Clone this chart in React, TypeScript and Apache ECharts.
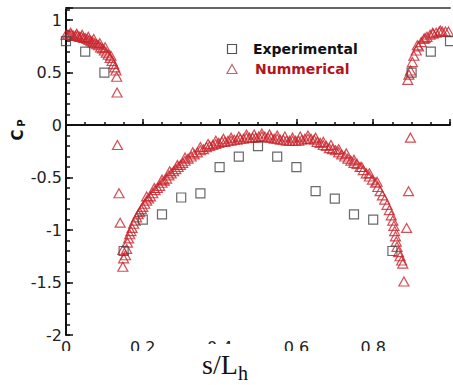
import React, { useEffect, useRef } from "react";
import * as echarts from "echarts";

// Experimental data (squares)
const expX = [0.0, 0.05, 0.1, 0.15, 0.2, 0.25, 0.3, 0.35, 0.4, 0.45, 0.5, 0.55, 0.6, 0.65, 0.7, 0.75, 0.8, 0.85, 0.9, 0.95, 1.0];
const expY = [0.8, 0.7, 0.5, -1.2, -0.9, -0.85, -0.69, -0.65, -0.4, -0.3, -0.2, -0.3, -0.4, -0.63, -0.7, -0.85, -0.9, -1.2, 0.5, 0.7, 0.8];

// Numerical data (triangles) - main row of the band and isolated points
const numX = [
  0.0, 0.005, 0.01, 0.015, 0.02, 0.025, 0.03, 0.035, 0.04, 0.045, 0.05, 0.055, 0.06, 0.065, 0.07, 0.075, 0.08, 0.085, 0.09, 0.095,
  0.1, 0.105, 0.11, 0.115, 0.12, 0.124, 0.127, 0.13, 0.132, 0.133, 0.134, 0.138, 0.141, 0.148, 0.15, 0.148,
  0.155, 0.158, 0.16, 0.163, 0.166, 0.169, 0.172, 0.176, 0.18, 0.184, 0.188, 0.192, 0.196, 0.2, 0.205, 0.21, 0.215, 0.22,
  0.226, 0.232, 0.238, 0.244, 0.25, 0.256, 0.262, 0.268, 0.274, 0.28, 0.286, 0.292, 0.298, 0.304, 0.31, 0.318, 0.326,
  0.334, 0.342, 0.35, 0.358, 0.366, 0.374, 0.382, 0.39, 0.398, 0.406, 0.414, 0.422, 0.43, 0.438, 0.446, 0.454, 0.462,
  0.47, 0.478, 0.486, 0.494, 0.502, 0.51, 0.518, 0.526, 0.534, 0.542, 0.55, 0.558, 0.566, 0.574, 0.582, 0.59, 0.598,
  0.606, 0.614, 0.622, 0.63, 0.638, 0.646, 0.654, 0.662, 0.67, 0.678, 0.686, 0.694, 0.702, 0.71, 0.718, 0.726, 0.734,
  0.742, 0.75, 0.758, 0.766, 0.774, 0.782, 0.79, 0.798, 0.806, 0.812, 0.818, 0.824, 0.83, 0.836, 0.842, 0.847, 0.851,
  0.854, 0.856, 0.858, 0.86, 0.862, 0.866, 0.87, 0.874, 0.877, 0.88, 0.887, 0.892, 0.897,
  0.89, 0.893, 0.897, 0.902, 0.906, 0.912, 0.918, 0.925, 0.932, 0.94, 0.948, 0.956, 0.964, 0.972, 0.98, 0.988, 0.996
];
const numY = [
  0.86, 0.86, 0.86, 0.86, 0.85, 0.85, 0.85, 0.84, 0.84, 0.83, 0.83, 0.82, 0.81, 0.8, 0.79, 0.78, 0.77, 0.76, 0.74, 0.73,
  0.71, 0.69, 0.67, 0.64, 0.61, 0.58, 0.55, 0.52, 0.46, 0.31, -0.19, -0.65, -0.93, -1.19, -1.27, -1.35,
  -1.24, -1.18, -1.12, -1.08, -1.04, -1.01, -0.98, -0.94, -0.91, -0.88, -0.85, -0.83, -0.8, -0.78, -0.75, -0.72, -0.7, -0.68,
  -0.65, -0.62, -0.6, -0.58, -0.55, -0.53, -0.51, -0.48, -0.46, -0.44, -0.42, -0.4, -0.38, -0.36, -0.34, -0.32, -0.3,
  -0.28, -0.26, -0.24, -0.23, -0.21, -0.2, -0.19, -0.18, -0.17, -0.16, -0.16, -0.15, -0.15, -0.14, -0.14, -0.13, -0.13,
  -0.12, -0.12, -0.12, -0.12, -0.11, -0.11, -0.11, -0.12, -0.12, -0.13, -0.13, -0.14, -0.14, -0.15, -0.15, -0.15, -0.15,
  -0.15, -0.14, -0.13, -0.13, -0.13, -0.14, -0.16, -0.17, -0.19, -0.2, -0.22, -0.23, -0.24, -0.26, -0.28, -0.3, -0.32,
  -0.34, -0.36, -0.37, -0.4, -0.43, -0.46, -0.49, -0.52, -0.55, -0.59, -0.63, -0.67, -0.71, -0.76, -0.81, -0.86, -0.91,
  -0.96, -1.01, -1.06, -1.11, -1.16, -1.21, -1.25, -1.29, -1.32, -1.49, -0.98, -0.63, -0.12,
  0.43, 0.48, 0.52, 0.6, 0.66, 0.71, 0.75, 0.79, 0.82, 0.84, 0.86, 0.87, 0.88, 0.89, 0.89, 0.89, 0.89
];

// Numerical data (triangles) - upper row of the dense band
const numX2 = [
  0.012, 0.028, 0.042, 0.058, 0.072, 0.088, 0.102, 0.117,
  0.21, 0.23, 0.25, 0.27, 0.29, 0.31, 0.33, 0.35, 0.37, 0.39,
  0.41, 0.43, 0.45, 0.47, 0.49, 0.51, 0.53, 0.55, 0.57, 0.59, 0.61, 0.63, 0.65, 0.67, 0.69, 0.71, 0.73, 0.75, 0.77, 0.79, 0.81,
  0.915, 0.935, 0.955, 0.975
];
const numY2 = [
  0.88, 0.87, 0.86, 0.84, 0.82, 0.78, 0.74, 0.66,
  -0.68, -0.6, -0.52, -0.44, -0.38, -0.31, -0.26, -0.21, -0.18, -0.15,
  -0.13, -0.12, -0.11, -0.09, -0.09, -0.08, -0.09, -0.1, -0.11, -0.12, -0.11, -0.1, -0.12, -0.16, -0.19, -0.23, -0.27, -0.33, -0.4, -0.46, -0.54,
  0.76, 0.83, 0.88, 0.9
];

const xMajorTicks = [0, 0.2, 0.4, 0.6, 0.8];
const yMajorTicks = [-2, -1.5, -1, -0.5, 0, 0.5, 1];
const legendNames = ["Experimental", "Nummerical"];

const FONT = "DejaVu Sans";
const RED = "#c8242c";

export default function App() {
  const ref = useRef<HTMLDivElement>(null);
  useEffect(() => {
    if (!ref.current) return;
    const chart = echarts.init(ref.current, undefined, { renderer: "svg" });
    const expData = expX.map((x, i) => [x, expY[i]]);
    const numData = numX.map((x, i) => [x, numY[i]]).concat(numX2.map((x, i) => [x, numY2[i]]));
    const isTick = (arr: number[], v: number) => arr.some((t) => Math.abs(t - v) < 1e-6);
    const tickLine = { color: "#111", width: 1.5 };
    chart.setOption({
      animation: false,
      backgroundColor: "#fff",
      grid: { left: 66, top: 8, width: 390, height: 327, containLabel: false },
      xAxis: [
        {
          type: "value",
          min: 0,
          max: 1,
          interval: 0.2,
          position: "bottom",
          axisLine: { lineStyle: { color: "#111", width: 2 } },
          axisTick: { inside: true, length: 6, lineStyle: tickLine },
          axisLabel: {
            margin: 4,
            fontFamily: FONT,
            fontSize: 16,
            color: "#222",
            formatter: (v: number) => (isTick(xMajorTicks, v) ? String(+v.toFixed(2)) : ""),
          },
          splitLine: { show: false },
        },
        {
          type: "value",
          min: 0,
          max: 1,
          interval: 0.05,
          position: "bottom",
          axisLine: { show: false },
          axisTick: { inside: true, length: 3, lineStyle: tickLine },
          axisLabel: { show: false },
          splitLine: { show: false },
        },
        {
          type: "value",
          min: 0,
          max: 1,
          position: "top",
          axisLine: { lineStyle: { color: "#666", width: 2 } },
          axisTick: { show: false },
          axisLabel: { show: false },
          splitLine: { show: false },
        },
      ],
      yAxis: [
        {
          type: "value",
          min: -2,
          max: 1.115,
          interval: 0.5,
          position: "left",
          axisLine: { lineStyle: { color: "#111", width: 2 } },
          axisTick: { inside: true, length: 7, lineStyle: tickLine },
          axisLabel: {
            margin: 4,
            fontFamily: FONT,
            fontSize: 16,
            color: "#222",
            formatter: (v: number) => (isTick(yMajorTicks, v) ? String(+v.toFixed(2)) : ""),
          },
          splitLine: { show: false },
        },
        {
          type: "value",
          min: -2,
          max: 1.115,
          interval: 0.1,
          position: "left",
          axisLine: { show: false },
          axisTick: { inside: true, length: 4, lineStyle: tickLine },
          axisLabel: { show: false },
          splitLine: { show: false },
        },
      ],
      series: [
        {
          type: "scatter",
          name: legendNames[1],
          data: numData,
          symbol: "triangle",
          symbolSize: [10, 9],
          clip: false,
          itemStyle: { color: "rgba(255,255,255,0)", borderColor: RED, borderWidth: 1.2 },
        },
        {
          type: "scatter",
          name: legendNames[0],
          data: expData,
          symbol: "rect",
          symbolSize: 9,
          clip: false,
          itemStyle: { color: "rgba(255,255,255,0)", borderColor: "#444", borderWidth: 1.2 },
        },
      ],
      graphic: [
        // legend
        { type: "rect", shape: { x: 227.5, y: 44.5, width: 9, height: 9 }, style: { fill: "none", stroke: "#555", lineWidth: 1.2 } },
        {
          type: "text",
          x: 253,
          y: 49,
          style: { text: legendNames[0], font: `bold 14px "${FONT}"`, fill: "#111", align: "left", verticalAlign: "middle" },
        },
        {
          type: "polygon",
          shape: { points: [[232, 64.5], [237, 73.5], [227, 73.5]] },
          style: { fill: "none", stroke: "#b86a72", lineWidth: 1.2 },
        },
        {
          type: "text",
          x: 255,
          y: 69,
          style: { text: legendNames[1], font: `bold 14px "${FONT}"`, fill: "#b3141c", align: "left", verticalAlign: "middle" },
        },
        // partial cover of the tick labels as in the reference
        { type: "rect", shape: { x: 0, y: 351, width: 453, height: 4 }, style: { fill: "#fff" }, z: 100 },
        { type: "rect", shape: { x: 205, y: 344, width: 36, height: 11 }, style: { fill: "#fff" }, z: 100 },
        {
          type: "text",
          x: 18,
          y: 135,
          rotation: Math.PI / 2,
          style: { text: "C", font: `bold 15px "${FONT}"`, fill: "#111", align: "center", verticalAlign: "middle" },
        },
        {
          type: "text",
          x: 21,
          y: 123,
          rotation: Math.PI / 2,
          style: { text: "P", font: `bold 10px "${FONT}"`, fill: "#111", align: "center", verticalAlign: "middle" },
        },
        {
          type: "text",
          x: 202,
          y: 378,
          style: { text: "s/L", font: `28px "Liberation Serif"`, fill: "#111", align: "left", verticalAlign: "bottom" },
          z: 101,
        },
        {
          type: "text",
          x: 238,
          y: 383,
          style: { text: "h", font: `20px "Liberation Serif"`, fill: "#111", align: "left", verticalAlign: "bottom" },
          z: 101,
        },
      ],
    });
    return () => chart.dispose();
  }, []);
  return <div ref={ref} style={{ position: "absolute", left: 0, top: 0, width: 453, height: 385 }} />;
}
